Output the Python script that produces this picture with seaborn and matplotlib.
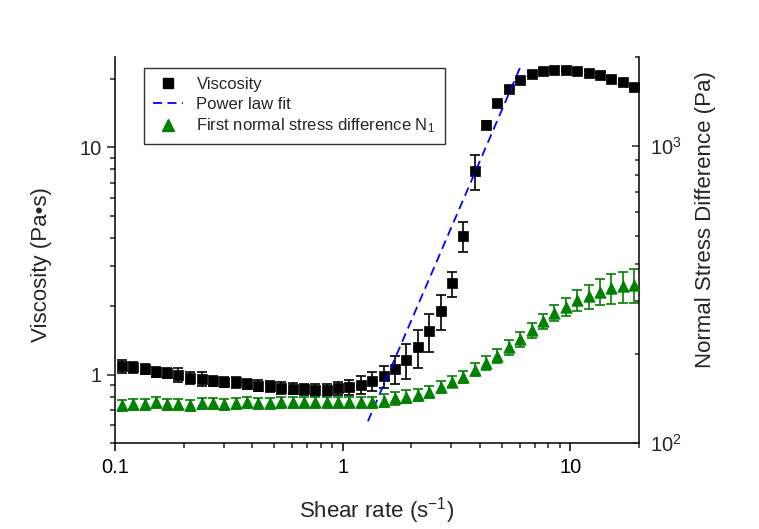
import matplotlib
matplotlib.use("Agg")
import numpy as np
import pandas as pd
import matplotlib.pyplot as plt
from matplotlib.lines import Line2D
from matplotlib.ticker import LogLocator, FuncFormatter, NullFormatter, LogFormatterSciNotation
import seaborn as sns

# Steady shear sweep (log-spaced rates, 1/s)
shear_rate = [0.107, 0.120, 0.135, 0.151, 0.170, 0.190, 0.214, 0.240, 0.269, 0.302,
              0.339, 0.380, 0.426, 0.478, 0.537, 0.602, 0.676, 0.758, 0.850, 0.954,
              1.070, 1.201, 1.348, 1.512, 1.697, 1.904, 2.136, 2.397, 2.689, 3.018,
              3.386, 3.799, 4.262, 4.782, 5.366, 6.021, 6.755, 7.579, 8.504, 9.539,
              10.70, 12.01, 13.48, 15.12, 16.97, 19.04]

# Viscosity (Pa s) and its standard deviation
viscosity = [1.09, 1.08, 1.06, 1.03, 1.02, 1.00, 0.967, 0.957, 0.940, 0.929,
             0.925, 0.910, 0.895, 0.890, 0.874, 0.868, 0.860, 0.859, 0.859, 0.870,
             0.880, 0.902, 0.934, 0.983, 1.06, 1.16, 1.32, 1.55, 1.90, 2.52,
             4.07, 7.88, 12.6, 15.7, 18.0, 19.8, 21.0, 21.7, 22.0, 22.0,
             21.8, 21.3, 20.8, 20.1, 19.4, 18.5]
viscosity_err = [0.07, 0.06, 0.05, 0.05, 0.05, 0.07, 0.06, 0.07, 0.05, 0.05,
                 0.05, 0.05, 0.05, 0.05, 0.05, 0.05, 0.05, 0.05, 0.05, 0.06,
                 0.065, 0.08, 0.09, 0.11, 0.15, 0.20, 0.25, 0.29, 0.33, 0.32,
                 0.62, 1.4, 0.5, 0.5, 0.4, 0.4, 0.4, 0.4, 0.4, 0.4,
                 0.4, 0.4, 0.4, 0.4, 0.4, 0.4]

# First normal stress difference N1 (Pa) and its standard deviation
n1 = [134, 135, 135, 137, 135, 135, 134, 136, 136, 135,
      136, 137, 136, 136, 137, 137, 137, 137, 137, 137,
      137, 137, 137, 139, 141.5, 143.4, 145.3, 149.1, 154.2, 161.1,
      166.8, 176.6, 185.9, 196.8, 210.3, 223.9, 240.0, 257.0, 274.0, 287.5,
      302.5, 312.0, 324.0, 333.0, 337.0, 341.5]
n1_err = [6, 6, 6, 6, 6, 6, 6, 6, 6, 6,
          6, 6, 6, 6, 6, 6, 6, 6, 6, 6,
          6, 6, 6, 7, 7, 7, 7, 7, 7, 7,
          8, 9, 10, 11, 12, 13, 14, 15, 17, 20,
          25, 30, 33, 38, 41, 45]

# Power-law fit eta = K * rate^n over the shear-thickening range
fit_K = 0.344
fit_n = 2.33
fit_range = [1.29, 6.02]

legend_labels = ["Viscosity", "Power law fit", r"First normal stress difference N$_\mathregular{1}$"]
x_label = r"Shear rate (s$^{\mathregular{-1}}$)"
y_label = "Viscosity (Pa\u2022s)"
y2_label = "Normal Stress Difference (Pa)"

BLACK = "#000000"
GREEN = "#008000"
BLUE = "#0000ff"

sns.set_style("white")
plt.rcParams.update({
    "font.family": ["Liberation Sans", "DejaVu Sans"],
    "mathtext.fontset": "custom",
    "mathtext.rm": "Liberation Sans",
    "mathtext.it": "Liberation Sans:italic",
    "mathtext.bf": "Liberation Sans:bold",
    "axes.linewidth": 1.1,
})

df = pd.DataFrame({"rate": shear_rate, "eta": viscosity, "eta_err": viscosity_err,
                   "n1": n1, "n1_err": n1_err})
fit_x = np.array(fit_range)
fit_df = pd.DataFrame({"rate": fit_x, "eta": fit_K * fit_x ** fit_n})

fig = plt.figure(figsize=(7.59, 5.29), dpi=100)
ax = fig.add_axes([115 / 759, 86 / 529, 524 / 759, 386 / 529])
ax2 = ax.twinx()

for a in (ax, ax2):
    a.set_xscale("log")
    a.set_yscale("log")

DASH = (0, (5.0, 3.0))

# viscosity with error bars
ax.errorbar(df["rate"], df["eta"], yerr=df["eta_err"], fmt="none", ecolor=BLACK,
            elinewidth=1.2, capsize=3.5, capthick=1.2, zorder=2)
sns.scatterplot(data=df, x="rate", y="eta", ax=ax, marker="s", s=60, color=BLACK,
                edgecolor=BLACK, linewidth=0.5, zorder=3, legend=False)

# power-law fit
sns.lineplot(data=fit_df, x="rate", y="eta", ax=ax, color=BLUE, linewidth=1.3,
             linestyle=DASH, zorder=4)

# N1 on the right axis
ax2.errorbar(df["rate"], df["n1"], yerr=df["n1_err"], fmt="none", ecolor=GREEN,
             elinewidth=1.2, capsize=3.5, capthick=1.2, zorder=2)
sns.scatterplot(data=df, x="rate", y="n1", ax=ax2, marker="^", s=68, color=GREEN,
                edgecolor=GREEN, linewidth=0.5, zorder=3, legend=False)

ax.set_xlim(0.1, 20)
ax.set_ylim(0.5, 25)
ax2.set_ylim(100, 2000)

plain = FuncFormatter(lambda v, _: f"{v:g}")
ax.xaxis.set_major_locator(LogLocator(base=10, numticks=10))
ax.xaxis.set_minor_locator(LogLocator(base=10, subs=np.arange(2, 10), numticks=20))
ax.xaxis.set_major_formatter(plain)
ax.xaxis.set_minor_formatter(NullFormatter())
ax.yaxis.set_major_locator(LogLocator(base=10, numticks=10))
ax.yaxis.set_minor_locator(LogLocator(base=10, subs=np.arange(2, 10), numticks=20))
ax.yaxis.set_major_formatter(plain)
ax.yaxis.set_minor_formatter(NullFormatter())
ax2.yaxis.set_major_locator(LogLocator(base=10, numticks=10))
ax2.yaxis.set_minor_locator(LogLocator(base=10, subs=np.arange(2, 10), numticks=20))
ax2.yaxis.set_major_formatter(LogFormatterSciNotation())
ax2.yaxis.set_minor_formatter(NullFormatter())

ax.tick_params(axis="x", which="major", direction="out", length=5.8, width=1.1,
               labelsize=14.5, pad=5, top=False, bottom=True, colors=BLACK)
ax.tick_params(axis="x", which="minor", direction="out", length=3.4, width=1.1,
               top=False, bottom=True)
ax.tick_params(axis="y", which="major", direction="out", length=5.8, width=1.1,
               labelsize=14.5, pad=4, left=True, right=False)
ax.tick_params(axis="y", which="minor", direction="out", length=3.4, width=1.1,
               left=True, right=False)
ax2.tick_params(axis="y", which="major", direction="in", length=5.2, width=1.1,
                labelsize=14.5, pad=8, right=True, left=False)
ax2.tick_params(axis="y", which="minor", direction="in", length=3.0, width=1.1,
                right=True, left=False)

for s in ("top", "right"):
    ax.spines[s].set_visible(False)
for s in ("top", "left", "bottom"):
    ax2.spines[s].set_visible(False)
for a in (ax, ax2):
    for sp in a.spines.values():
        sp.set_color(BLACK)
        sp.set_linewidth(1.1)

ax.set_xlabel(x_label, fontsize=16)
ax.set_ylabel(y_label, fontsize=16)
ax2.set_ylabel(y2_label, fontsize=16)
ax.xaxis.set_label_coords(0.5, -0.176)
ax.yaxis.set_label_coords((42 - 115) / 524, (443 - 265) / 386)
ax2.yaxis.set_label_coords((706 - 115) / 524, (443 - 220) / 386)
ax.yaxis.label.set_verticalalignment("center")
ax2.yaxis.label.set_verticalalignment("center")
ax.xaxis.label.set_verticalalignment("center")

handles = [
    Line2D([], [], marker="s", color=BLACK, linestyle="none", markersize=7.5),
    Line2D([], [], color=BLUE, linewidth=1.3, linestyle=DASH),
    Line2D([], [], marker="^", color=GREEN, linestyle="none", markersize=8),
]
leg = ax2.legend(handles, legend_labels, loc="upper left",
                 bbox_to_anchor=((144 - 115) / 524, (443 - 68) / 386),
                 borderaxespad=0, fontsize=12, frameon=True, fancybox=False,
                 framealpha=1, edgecolor="#333333", handlelength=1.8,
                 handletextpad=0.8, borderpad=0.55, labelspacing=0.28)
leg.get_frame().set_linewidth(1.0)

fig.savefig("out.png", dpi=100, facecolor="white")
